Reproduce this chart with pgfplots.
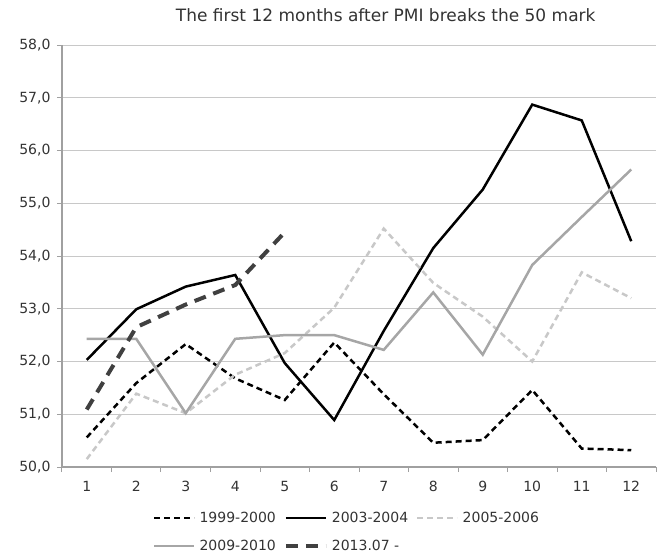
\documentclass[border=0pt]{standalone}
\usepackage{pgfplots}
\pgfplotsset{compat=1.18}
\usepackage{fontspec}
\setmainfont{DejaVu Sans}
\definecolor{axiscol}{HTML}{A0A0A0}
\definecolor{gridcol}{HTML}{C8C8C8}
\definecolor{txtcol}{HTML}{333333}
\definecolor{lightgr}{HTML}{C8C8C8}
\definecolor{midgr}{HTML}{A6A6A6}
\definecolor{darkgr}{HTML}{404040}
\pgfplotsset{legend image code/.code={\draw[#1] (0pt,0pt) -- (40pt,0pt);}}
\begin{document}
\begin{tikzpicture}
\path[use as bounding box] (0,0) rectangle (657pt,558pt);
\begin{axis}[
  at={(62pt,91pt)}, anchor=south west,
  scale only axis, width=594pt, height=422pt,
  xmin=0.5, xmax=12.5, ymin=50, ymax=58,
  axis x line*=bottom, axis y line*=left,
  axis line style={draw=axiscol, line width=1.2pt, -},
  xtick={1,...,12},
  xtick style={draw=none},
  extra x ticks={0.5,1.5,...,12.5},
  extra x tick labels={},
  extra x tick style={xtick style={draw=axiscol, line width=1pt}},
  ytick={50,51,...,58},
  ytick style={draw=axiscol, line width=1pt},
  tick align=outside, major tick length=5pt,
  ymajorgrids, grid style={draw=gridcol, line width=1pt},
  tick label style={font=\fontsize{14}{16}\selectfont, text=txtcol},
  yticklabel style={/pgf/number format/fixed, /pgf/number format/fixed zerofill, /pgf/number format/precision=1, /pgf/number format/use comma, xshift=-3pt},
  /pgf/number format/assume math mode=true,
  xticklabel style={yshift=-6pt},
  title={The first 12 months after PMI breaks the 50 mark},
  title style={at={(0.545,1.056)}, anchor=center, font=\fontsize{17}{19}\selectfont, text=txtcol},
  legend columns=3,
  legend style={at={(0.153,-0.102)}, anchor=north west, draw=none, fill=none, inner sep=0pt,
    font=\fontsize{14}{16}\selectfont, text=txtcol,
    /tikz/every odd column/.append style={column sep=2pt},
    /tikz/every even column/.append style={column sep=6pt},
    row sep=12pt},
  legend cell align=left,
]
\addplot[black, line width=2.5pt, dash pattern=on 6pt off 4pt] coordinates {
(1,50.56) (2,51.59) (3,52.33) (4,51.68) (5,51.27) (6,52.36) (7,51.38) (8,50.46) (9,50.51) (10,51.46) (11,50.35) (12,50.32)};
\addlegendentry{1999-2000}
\addplot[black, line width=2.5pt] coordinates {
(1,52.03) (2,52.99) (3,53.42) (4,53.64) (5,51.97) (6,50.89) (7,52.58) (8,54.15) (9,55.26) (10,56.87) (11,56.57) (12,54.28)};
\addlegendentry{2003-2004}
\addplot[lightgr, line width=2.5pt, dash pattern=on 6pt off 4pt] coordinates {
(1,50.15) (2,51.39) (3,51.02) (4,51.75) (5,52.16) (6,53.02) (7,54.52) (8,53.49) (9,52.85) (10,52.0) (11,53.69) (12,53.2)};
\addlegendentry{2005-2006}
\addplot[midgr, line width=2.5pt] coordinates {
(1,52.43) (2,52.43) (3,51.02) (4,52.43) (5,52.5) (6,52.5) (7,52.22) (8,53.31) (9,52.13) (10,53.83) (11,54.74) (12,55.64)};
\addlegendentry{2009-2010}
\addplot[darkgr, line width=4pt, dash pattern=on 12pt off 8pt] coordinates {
(1,51.09) (2,52.65) (3,53.08) (4,53.45) (5,54.45)};
\addlegendentry{2013.07 -}
\end{axis}
\end{tikzpicture}
\end{document}
